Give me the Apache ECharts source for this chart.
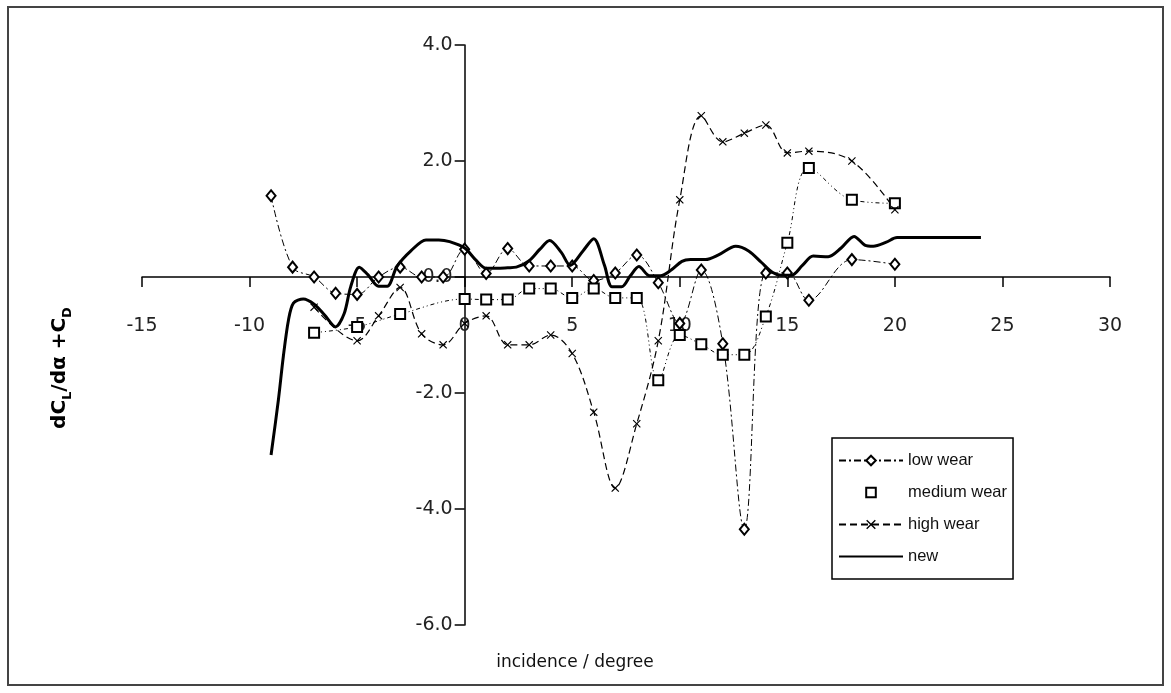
<!DOCTYPE html>
<html>
<head>
<meta charset="utf-8">
<script src="https://cdn.jsdelivr.net/npm/echarts@6/dist/echarts.min.js"></script>
<style>html,body{margin:0;padding:0;background:#fff}#c{width:1171px;height:693px}</style>
</head>
<body>
<div id="c"></div>
<script>
const xTicks = { min: -15, max: 30, step: 5 };
const yTicks = { min: -6, max: 4, step: 2 };

const lowX = [-9, -8, -7, -6, -5, -4, -3, -2, -1, 0, 1, 2, 3, 4, 5, 6, 7, 8, 9, 10, 11, 12, 13, 14, 15, 16, 18, 20];
const lowY = [1.4, 0.17, 0.0, -0.28, -0.3, 0.0, 0.17, 0.0, 0.0, 0.48, 0.06, 0.49, 0.19, 0.19, 0.19, -0.06, 0.07, 0.38, -0.1, -0.8, 0.12, -1.15, -4.35, 0.07, 0.07, -0.4, 0.3, 0.22];

const medX = [-7, -5, -3, 0, 1, 2, 3, 4, 5, 6, 7, 8, 9, 10, 11, 12, 13, 14, 15, 16, 18, 20];
const medY = [-0.96, -0.86, -0.64, -0.38, -0.39, -0.39, -0.2, -0.2, -0.36, -0.2, -0.36, -0.36, -1.78, -1.0, -1.16, -1.34, -1.34, -0.68, 0.59, 1.88, 1.33, 1.27];

const highX = [-7, -5, -4, -3, -2, -1, 0, 1, 2, 3, 4, 5, 6, 7, 8, 9, 10, 11, 12, 13, 14, 15, 16, 18, 20];
const highY = [-0.52, -1.1, -0.67, -0.18, -0.98, -1.17, -0.8, -0.67, -1.17, -1.17, -1.0, -1.32, -2.33, -3.64, -2.53, -1.1, 1.33, 2.78, 2.33, 2.48, 2.62, 2.14, 2.17, 2.0, 1.16];

const newX = [-9, -8.66, -8.43, -8.19, -7.96, -7.5, -7, -6.5, -6, -5.6, -5.3, -4.9, -4.5, -4, -3.6, -3.15, -2.5, -1.8, -1.2, -0.7, 0, 0.5, 1, 1.5, 2, 2.4, 3, 3.5, 3.95, 4.5, 4.9, 5.5, 6, 6.5, 6.85, 7.3, 7.7, 8.1, 8.6, 9.1, 9.6, 10.1, 10.5, 11.2, 11.8, 12.6, 13.2, 13.8, 14.3, 14.7, 15.2, 15.7, 16.2, 16.9, 17.5, 18.1, 18.6, 19.0, 19.6, 20.1, 24];
const newY = [-3.07, -2.12, -1.37, -0.74, -0.45, -0.38, -0.47, -0.66, -0.86, -0.63, -0.17, 0.17, 0.04, -0.16, -0.16, 0.18, 0.45, 0.64, 0.64, 0.61, 0.5, 0.3, 0.15, 0.15, 0.16, 0.17, 0.28, 0.48, 0.63, 0.42, 0.2, 0.45, 0.66, 0.2, -0.17, -0.17, 0.02, 0.18, 0.02, 0.02, 0.12, 0.27, 0.3, 0.3, 0.38, 0.53, 0.45, 0.25, 0.08, 0.03, 0.03, 0.2, 0.36, 0.35, 0.5, 0.7, 0.55, 0.53, 0.6, 0.68, 0.68];

const seriesNames = ['low wear', 'medium wear', 'high wear', 'new'];

function zip(xs, ys) { return xs.map((x, i) => [x, ys[i]]); }

const FONT = 'DejaVu Sans';
const crossPath = 'path://M0,1L1,0L5,4L9,0L10,1L6,5L10,9L9,10L5,6L1,10L0,9L4,5Z';

// grid geometry: x from -15..30 over 142..1110, y from -6..4 over 625..45
const G = { left: 142, right: 61, top: 45, bottom: 68 };
const plotW = 1171 - G.left - G.right;
const plotH = 693 - G.top - G.bottom;
const yZeroOffset = -plotH * (0 - yTicks.min) / (yTicks.max - yTicks.min); // move x-axis up to y=0
const xZeroOffset = -plotW * (0 - xTicks.min) / (xTicks.max - xTicks.min); // move y-axis right to x=0

const chart = echarts.init(document.getElementById('c'));
chart.setOption({
  animation: false,
  backgroundColor: '#fff',
  grid: { left: G.left, right: G.right, top: G.top, bottom: G.bottom, containLabel: false },
  xAxis: {
    type: 'value', min: xTicks.min, max: xTicks.max, interval: xTicks.step,
    position: 'bottom', offset: yZeroOffset,
    splitLine: { show: false },
    axisLine: { onZero: false, lineStyle: { color: '#000', width: 1.5 } },
    axisTick: { show: true, length: 10, lineStyle: { color: '#000', width: 1.5 } },
    axisLabel: { margin: 40, color: '#222', fontFamily: FONT, fontSize: 19 }
  },
  yAxis: {
    type: 'value', min: yTicks.min, max: yTicks.max, interval: yTicks.step,
    position: 'left', offset: xZeroOffset,
    splitLine: { show: false },
    axisLine: { onZero: false, lineStyle: { color: '#000', width: 1.5 } },
    axisTick: { show: true, length: 10, lineStyle: { color: '#000', width: 1.5 } },
    axisLabel: { margin: 12, color: '#222', fontFamily: FONT, fontSize: 19, formatter: v => v.toFixed(1) }
  },
  legend: {
    orient: 'vertical', left: 832, top: 438,
    data: [
      { name: seriesNames[0] },
      { name: seriesNames[1], lineStyle: { opacity: 0 } },
      { name: seriesNames[2] },
      { name: seriesNames[3], itemStyle: { opacity: 0 } }
    ],
    itemWidth: 64, itemHeight: 12, itemGap: 15,
    padding: [14, 6, 14, 6],
    borderColor: '#000', borderWidth: 1.5,
    textStyle: { fontFamily: 'Liberation Sans', fontSize: 16.5, color: '#111' }
  },
  graphic: [
    { type: 'rect', shape: { x: 8, y: 7, width: 1155, height: 678 }, style: { fill: 'none', stroke: '#444', lineWidth: 2 }, z: 100 },
    { type: 'text', x: 575, y: 663, style: { text: 'incidence / degree', font: '17px "DejaVu Sans"', fill: '#111', textAlign: 'center', textVerticalAlign: 'middle' } },
    { type: 'text', x: 60, y: 368, rotation: Math.PI / 2,
      style: {
        text: '{b|dC}{s|L}{b|/dα +C}{s|D}',
        textAlign: 'center', textVerticalAlign: 'middle', fill: '#000',
        rich: {
          b: { fontFamily: FONT, fontWeight: 'bold', fontSize: 20, lineHeight: 28, verticalAlign: 'middle' },
          s: { fontFamily: FONT, fontWeight: 'bold', fontSize: 13, lineHeight: 28, verticalAlign: 'bottom' }
        }
      } }
  ],
  series: [
    {
      name: seriesNames[0], type: 'line', data: zip(lowX, lowY), smooth: 0.35,
      symbol: 'emptyDiamond', symbolSize: [9, 11],
      lineStyle: { color: '#000', width: 1, type: [7, 3, 2, 3] },
      itemStyle: { color: '#000', borderColor: '#000', borderWidth: 1 }, z: 3
    },
    {
      name: seriesNames[1], type: 'line', data: zip(medX, medY), smooth: 0.35,
      symbol: 'emptyRect', symbolSize: 10,
      lineStyle: { color: '#000', width: 1, type: [4, 3, 1, 3, 1, 3] },
      itemStyle: { color: '#000', borderColor: '#000', borderWidth: 1 }, z: 3
    },
    {
      name: seriesNames[2], type: 'line', data: zip(highX, highY), smooth: 0.35,
      symbol: crossPath, symbolSize: 8,
      lineStyle: { color: '#000', width: 1.2, type: [7, 4] },
      itemStyle: { color: '#000', borderWidth: 0 }, z: 3
    },
    {
      name: seriesNames[3], type: 'line', data: zip(newX, newY), smooth: 0.3,
      symbol: 'none', showSymbol: false,
      lineStyle: { color: '#000', width: 3 },
      itemStyle: { color: '#000' }, z: 4
    }
  ]
});
</script>
</body>
</html>
